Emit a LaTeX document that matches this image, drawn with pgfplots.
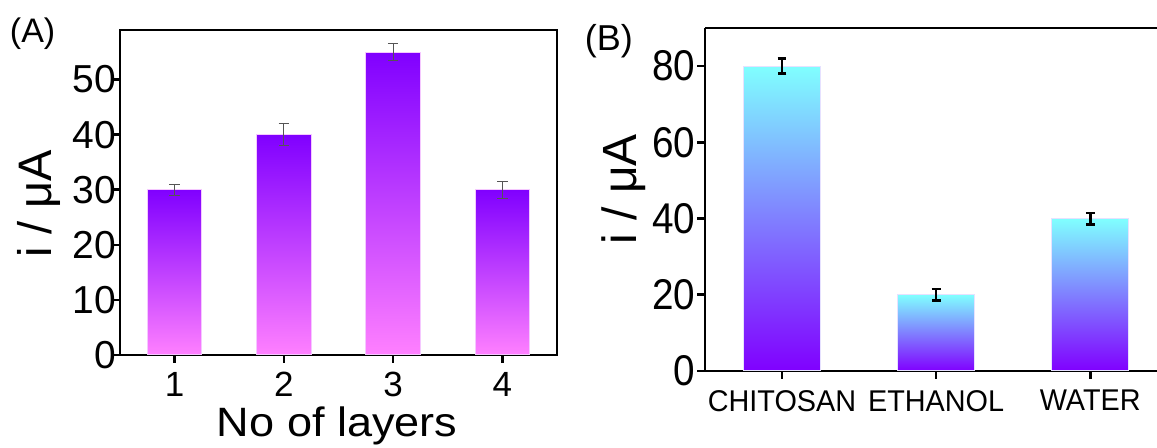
\documentclass[border=0pt]{standalone}
\usepackage{fontspec}
\setmainfont{Liberation Sans}
\usepackage{pgfplots}
\pgfplotsset{compat=1.18}

\definecolor{violetA}{RGB}{128,0,255}
\definecolor{midA}{RGB}{192,68,255}
\definecolor{pinkA}{RGB}{255,128,255}
\definecolor{cyanB}{RGB}{128,255,255}
\definecolor{midB}{RGB}{128,195,255}
\definecolor{violetB}{RGB}{128,0,255}
\definecolor{edgeA}{RGB}{245,200,255}
\definecolor{edgeB}{RGB}{230,225,255}
\definecolor{errA}{RGB}{85,85,85}

\pgfplotsset{
  barA/.style={ybar, bar shift=0pt, bar width=0.5, draw=edgeA, line width=0.5pt,
    top color=violetA, middle color=midA, bottom color=pinkA, forget plot,
    error bars/.cd, y dir=both, y explicit,
    error bar style={draw=errA, line width=0.5pt},
    error mark options={draw=errA, line width=0.5pt, mark size=2.6pt, rotate=90}},
  barB/.style={ybar, bar shift=0pt, bar width=0.5, draw=edgeB, line width=0.5pt,
    top color=cyanB, middle color=midB, bottom color=violetB, forget plot,
    error bars/.cd, y dir=both, y explicit,
    error bar style={draw=black, line width=1.3pt},
    error mark options={draw=black, line width=1.3pt, mark size=2.2pt, rotate=90}},
}

\begin{document}
\begin{tikzpicture}
\useasboundingbox (0,0) rectangle (578.5pt,224pt);

\begin{axis}[
  at={(60pt,46.5pt)}, anchor=south west,
  scale only axis, width=218.5pt, height=162.5pt,
  xmin=0.5, xmax=4.5, ymin=0, ymax=59,
  xtick={1,2,3,4}, ytick={0,10,20,30,40,50},
  tick align=outside, xtick pos=bottom, ytick pos=left,
  major tick length=4pt,
  axis line style={line width=1.3pt},
  every tick/.style={line width=1.3pt, black},
  /pgf/number format/assume math mode=true,
  xticklabel style={font=\fontsize{17.5}{17.5}\selectfont, yshift=-1pt},
  yticklabel style={font=\fontsize{19.5}{19.5}\selectfont, xshift=5.5pt},
  xlabel={No of layers},
  xlabel style={at={(rel axis cs:0.497,-0.252)}, anchor=base, font=\fontsize{20.5}{20.5}\selectfont, xscale=1.1},
  ylabel={i / μA},
  ylabel style={at={(rel axis cs:-0.185,0.465)}, anchor=center, font=\fontsize{23.5}{23.5}\selectfont},
  clip=false,
]
\addplot[barA] coordinates {(1,30) +- (0,1.0)};
\addplot[barA] coordinates {(2,40) +- (0,2.0)};
\addplot[barA] coordinates {(3,55) +- (0,1.5)};
\addplot[barA] coordinates {(4,30) +- (0,1.5)};
\node at (rel axis cs:-0.2,0.99) {\fontsize{17}{17}\selectfont (A)};
\end{axis}

\begin{axis}[
  at={(352.5pt,38.5pt)}, anchor=south west,
  scale only axis, width=226.5pt, height=171.5pt,
  xmin=0.5, xmax=3.44, ymin=0, ymax=90,
  axis y line*=left,
  xtick={1,2,3}, xticklabels={CHITOSAN, ETHANOL, \raisebox{-2pt}{WATER}},
  ytick={0,20,40,60,80},
  tick align=outside, xtick pos=bottom, ytick pos=left,
  major tick length=4pt,
  axis line style={line width=1.3pt},
  every tick/.style={line width=1.3pt, black},
  /pgf/number format/assume math mode=true,
  yticklabel style={font=\fontsize{21.5}{21.5}\selectfont, xscale=0.9, xshift=2.5pt},
  xticklabel style={font=\fontsize{15}{15}\selectfont, xscale=0.96, yshift=-2pt},
  ylabel={i / μA},
  ylabel style={at={(rel axis cs:-0.18,0.53)}, anchor=center, font=\fontsize{24}{24}\selectfont},
  clip=false,
]
\addplot[barB] coordinates {(1,80) +- (0,2.0)};
\addplot[barB] coordinates {(2,20) +- (0,1.5)};
\addplot[barB] coordinates {(3,40) +- (0,1.5)};
\node at (rel axis cs:-0.212,0.962) {\fontsize{18}{18}\selectfont (B)};
\end{axis}
\end{tikzpicture}
\end{document}
